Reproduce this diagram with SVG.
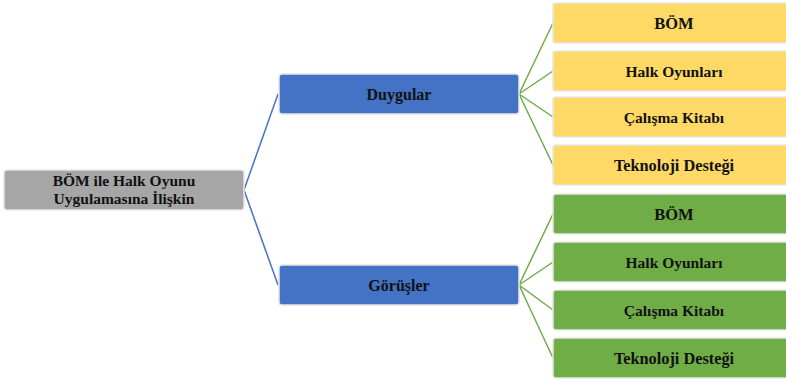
<svg xmlns="http://www.w3.org/2000/svg" width="786" height="381" viewBox="0 0 786 381">
<style>
.box{stroke:#e6e6e6;stroke-width:1.5}
.root{fill:#a6a6a6}
.blue{fill:#4472c4}
.yel{fill:#ffd966}
.grn{fill:#70ad47}
text{font-family:"Liberation Serif","Times New Roman",serif;font-weight:bold;fill:#111;text-anchor:middle;dominant-baseline:central}
.c1{stroke:#4472c4;stroke-width:1.5;fill:none}
.c2{stroke:#70ad47;stroke-width:1.5;fill:none}
.t0{font-size:15.5px}
.t1{font-size:16.5px}
.t2{font-size:16px}
.t3{font-size:15.5px}
.t4{font-size:16.3px}
</style>
<rect width="786" height="381" fill="#fff"/>
<g id="connectors">
<path class="c1" d="M244,190 L278,94"/>
<path class="c1" d="M244,190 L278,285"/>
<path class="c2" d="M519,94 L553,23 M519,94 L553,71 M519,94 L553,117 M519,94 L553,165"/>
<path class="c2" d="M519,285 L553,214 M519,285 L553,262 M519,285 L553,310 M519,285 L553,358"/>
</g>
<g id="root"><rect class="box root" x="4" y="170" width="240" height="40" rx="3"/><text x="124" y="180.5" class="t0">BÖM ile Halk Oyunu</text><text x="124" y="198.5" class="t0">Uygulamasına İlişkin</text></g>
<g id="duygular"><rect class="box blue" x="279" y="74" width="240" height="40" rx="3"/><text x="399" y="94" class="t2">Duygular</text></g>
<g id="gorusler"><rect class="box blue" x="279" y="265" width="240" height="40" rx="3"/><text x="399" y="285" class="t2">Görüşler</text></g>
<g id="y1"><rect class="box yel" x="553" y="3" width="240" height="40" rx="3"/><text x="674" y="23" class="t1">BÖM</text></g>
<g id="y2"><rect class="box yel" x="553" y="51" width="240" height="40" rx="3"/><text x="674" y="71" class="t3">Halk Oyunları</text></g>
<g id="y3"><rect class="box yel" x="553" y="97" width="240" height="40" rx="3"/><text x="674" y="117" class="t3">Çalışma Kitabı</text></g>
<g id="y4"><rect class="box yel" x="553" y="145" width="240" height="40" rx="3"/><text x="674" y="165" class="t4">Teknoloji Desteği</text></g>
<g id="g1"><rect class="box grn" x="553" y="194" width="240" height="40" rx="3"/><text x="674" y="214" class="t1">BÖM</text></g>
<g id="g2"><rect class="box grn" x="553" y="242" width="240" height="40" rx="3"/><text x="674" y="262" class="t3">Halk Oyunları</text></g>
<g id="g3"><rect class="box grn" x="553" y="290" width="240" height="40" rx="3"/><text x="674" y="310" class="t3">Çalışma Kitabı</text></g>
<g id="g4"><rect class="box grn" x="553" y="338" width="240" height="40" rx="3"/><text x="674" y="358" class="t4">Teknoloji Desteği</text></g>
</svg>
